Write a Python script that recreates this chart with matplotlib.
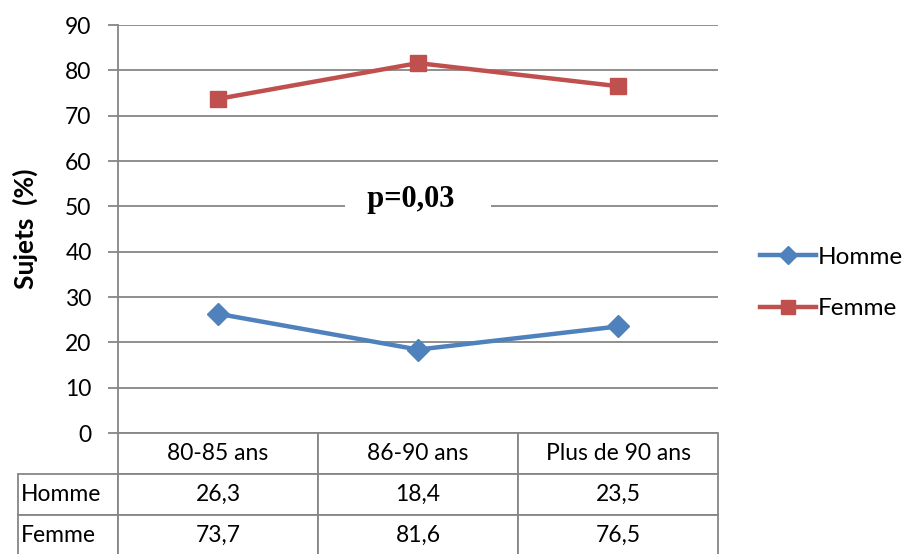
import matplotlib
matplotlib.use("Agg")
import matplotlib.pyplot as plt

categories = ["80-85 ans", "86-90 ans", "Plus de 90 ans"]
homme = [26.3, 18.4, 23.5]
femme = [73.7, 81.6, 76.5]
homme_labels = ["26,3", "18,4", "23,5"]
femme_labels = ["73,7", "81,6", "76,5"]
series_names = ["Homme", "Femme"]
yticks = [0, 10, 20, 30, 40, 50, 60, 70, 80, 90]
p_text = "p=0,03"

W, H = 909, 554
plt.rcParams['font.family'] = ['Lato', 'DejaVu Sans']
fig = plt.figure(figsize=(W / 100, H / 100), dpi=100)
fig.patch.set_facecolor("white")

L, R, T, B = 118, 718, 25, 433
ax = fig.add_axes([L / W, (H - B) / H, (R - L) / W, (B - T) / H])
grid_c = "#868686"

x = list(range(len(categories)))
ax.plot(x, homme, color="#4F81BD", lw=3.2, marker="D", ms=11,
        markerfacecolor="#4F81BD", markeredgecolor="#4F81BD", label=series_names[0], zorder=4)
ax.plot(x, femme, color="#C0504D", lw=3.2, marker="s", ms=11.5,
        markerfacecolor="#C0504D", markeredgecolor="#C0504D", label=series_names[1], zorder=4)

ax.set_xlim(-0.5, len(categories) - 0.5)
ax.set_ylim(0, 90)
ax.set_yticks(yticks)
ax.set_yticklabels([str(v) for v in yticks], fontsize=16.5)
ax.set_xticks([])
ax.yaxis.grid(True, color=grid_c, lw=1.3)
ax.set_axisbelow(True)
for s in ["top", "right", "bottom"]:
    ax.spines[s].set_visible(False)
ax.spines["left"].set_color(grid_c)
ax.spines["left"].set_linewidth(1.3)
ax.tick_params(axis="y", direction="out", length=7, width=1.3, color=grid_c, pad=12)

ax.set_ylabel("Sujets  (%)", fontsize=19, fontweight="bold")
ax.yaxis.set_label_coords((38 - L) / (R - L), 0.5)

ax.text(1, 51.4, "  " + p_text + "    ", ha="center", va="center", fontsize=22,
        fontweight="bold", family=["Liberation Serif"], zorder=5,
        bbox=dict(facecolor="white", edgecolor="none", pad=5))

# data table
col_w = (R - L) / len(categories)
lab_w = L - 18
cell_text = [[""] + categories,
             [series_names[0]] + homme_labels,
             [series_names[1]] + femme_labels]
tbl_h = (H + 2 - B) / (B - T)
tbl = ax.table(cellText=cell_text,
               colWidths=[lab_w / (R - L)] + [col_w / (R - L)] * len(categories),
               cellLoc="center",
               bbox=[-lab_w / (R - L), -tbl_h, 1 + lab_w / (R - L), tbl_h])
tbl.auto_set_font_size(False)
for (r, c), cell in tbl.get_celld().items():
    cell.set_edgecolor(grid_c)
    cell.set_linewidth(1.3)
    cell.get_text().set_fontsize(16.5)
    if c == 0:
        cell.get_text().set_ha("left")
        cell.PAD = 0.03
        cell._loc = "left"
    if r == 0 and c == 0:
        cell.visible_edges = ""

fig.legend(loc="center left", bbox_to_anchor=(738 / W, 1 - 283 / H), frameon=False,
           fontsize=17.5, handlelength=2.3, handletextpad=0.1, labelspacing=1.25,
           markerscale=0.85)

fig.savefig("out.png", dpi=100)
